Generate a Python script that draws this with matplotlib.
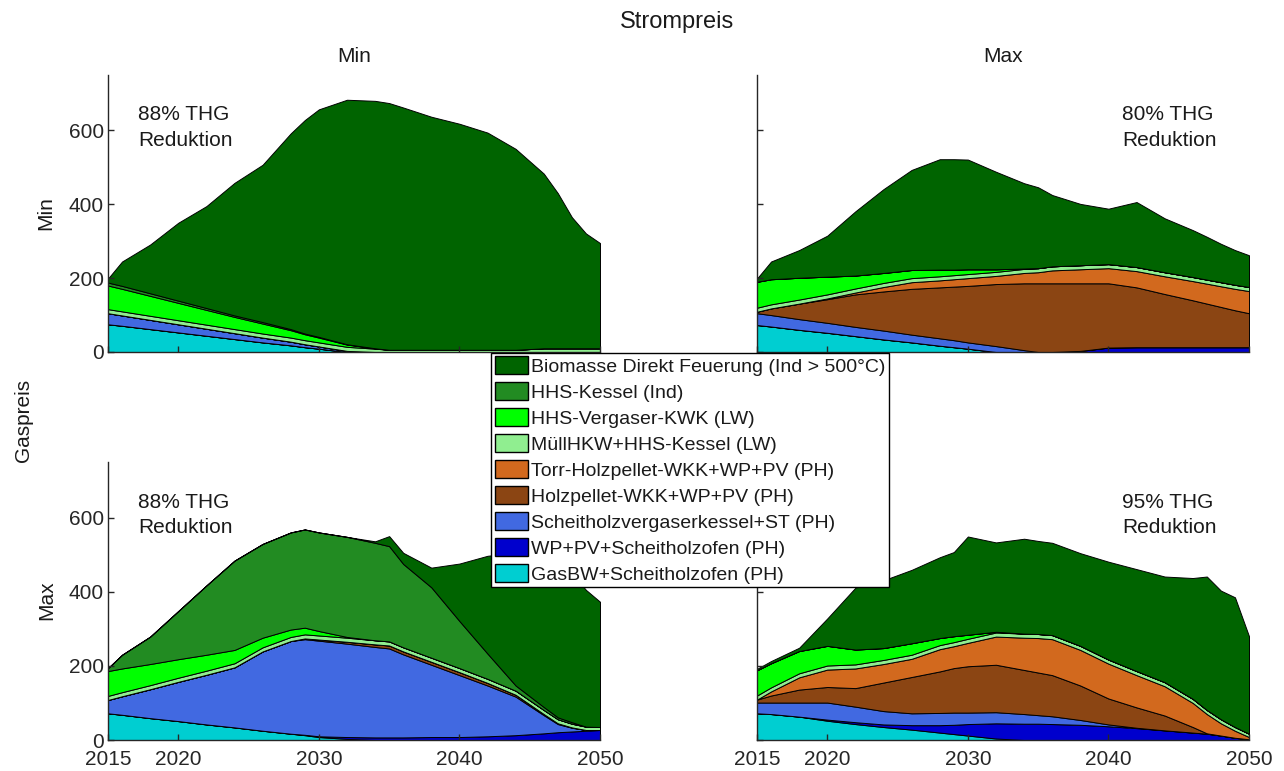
import matplotlib
matplotlib.use('Agg')
import matplotlib.pyplot as plt
from matplotlib.patches import Patch

plt.rcParams['font.family'] = ['Liberation Sans', 'DejaVu Sans']

# Common year grid (values at these years)
years = [2015, 2016, 2018, 2020, 2022, 2024, 2026, 2028, 2029, 2030, 2032, 2034,
         2035, 2036, 2038, 2040, 2042, 2044, 2046, 2047, 2048, 2049, 2050]

# Legend order (top -> bottom); stacking uses the reverse order
labels = ['Biomasse Direkt Feuerung (Ind > 500°C)',
          'HHS-Kessel (Ind)',
          'HHS-Vergaser-KWK (LW)',
          'MüllHKW+HHS-Kessel (LW)',
          'Torr-Holzpellet-WKK+WP+PV (PH)',
          'Holzpellet-WKK+WP+PV (PH)',
          'Scheitholzvergaserkessel+ST (PH)',
          'WP+PV+Scheitholzofen (PH)',
          'GasBW+Scheitholzofen (PH)']
colors = ['#006400', '#228B22', '#00FF00', '#90EE90', '#D2691E',
          '#8B4513', '#4169E1', '#0000CD', '#00CED1']

# ---- Strompreis Min / Gaspreis Min (88% THG) ----
tl_gasbw    = [75, 71, 62, 53, 44, 35, 26, 18, 13, 9, 0, 0, 0, 0, 0, 0, 0, 0, 0, 0, 0, 0, 0]
tl_wp       = [0, 0, 0, 0, 0, 0, 0, 0, 0, 0, 0, 0, 0, 0, 0, 0, 0, 0, 0, 0, 0, 0, 0]
tl_scheit   = [30, 28, 25, 22, 19, 16, 13, 10, 8, 6, 3, 0, 0, 0, 0, 0, 0, 0, 0, 0, 0, 0, 0]
tl_holz     = [0, 0, 0, 0, 0, 0, 0, 0, 0, 0, 0, 0, 0, 0, 0, 0, 0, 0, 0, 0, 0, 0, 0]
tl_torr     = [0, 0, 0, 0, 0, 0, 0, 0, 0, 0, 0, 0, 0, 0, 0, 0, 0, 0, 0, 0, 0, 0, 0]
tl_muell    = [11, 11, 11, 11, 11, 11, 11, 11, 11, 11, 11, 9, 6, 6, 6, 6, 6, 6, 10, 10, 10, 10, 10]
tl_vergaser = [64, 61, 54, 47, 40, 33, 27, 20, 16, 13, 6, 1, 0, 0, 0, 0, 0, 0, 0, 0, 0, 0, 0]
tl_hhs_ind  = [8, 8, 7, 6, 5, 4, 4, 3, 2, 2, 1, 0, 0, 0, 0, 0, 0, 0, 0, 0, 0, 0, 0]
tl_biomasse = [11, 66, 132, 211, 276, 359, 426, 530, 578, 616, 662, 670, 668, 656,
               631, 612, 588, 544, 473, 420, 355, 311, 285]

# ---- Strompreis Max / Gaspreis Min (80% THG) ----
tr_gasbw    = [73, 69, 60, 52, 43, 34, 26, 17, 13, 9, 0, 0, 0, 0, 0, 0, 0, 0, 0, 0, 0, 0, 0]
tr_wp       = [0, 0, 0, 0, 0, 0, 0, 0, 0, 0, 0, 0, 0, 0, 3, 12, 13, 13, 13, 13, 13, 13, 13]
tr_scheit   = [32, 31, 29, 27, 25, 24, 21, 20, 19, 17, 16, 5, 0, 0, 0, 0, 0, 0, 0, 0, 0, 0, 0]
tr_holz     = [4, 18, 42, 64, 88, 106, 124, 138, 145, 153, 168, 181, 186, 186, 183,
               174, 162, 144, 127, 118, 109, 100, 92]
tr_torr     = [0, 0, 0, 2, 5, 12, 18, 19, 20, 21, 22, 28, 30, 35, 38, 41, 44, 48, 52,
               54, 56, 58, 60]
tr_muell    = [11, 11, 11, 11, 11, 11, 11, 11, 11, 11, 11, 11, 11, 11, 11, 11, 11, 11,
               11, 11, 11, 11, 11]
tr_vergaser = [70, 68, 59, 48, 35, 27, 22, 18, 15, 13, 7, 1, 0, 0, 0, 0, 0, 0, 0, 0, 0, 0, 0]
tr_hhs_ind  = [0, 0, 0, 0, 0, 0, 0, 0, 0, 0, 0, 0, 0, 0, 0, 0, 0, 0, 0, 0, 0, 0, 0]
tr_biomasse = [9, 48, 75, 111, 174, 227, 271, 299, 299, 297, 264, 231, 219, 193,
               166, 150, 176, 146, 127, 116, 104, 94, 86]

# ---- Strompreis Min / Gaspreis Max (88% THG) ----
bl_gasbw    = [72, 68, 59, 51, 42, 34, 25, 17, 13, 8, 3, 0, 0, 0, 0, 0, 0, 0, 0, 0, 0, 0, 0]
bl_wp       = [0, 0, 0, 0, 0, 0, 0, 0, 1, 2, 5, 7, 7, 7, 8, 8, 10, 13, 18, 21, 23, 25, 27]
bl_scheit   = [36, 50, 78, 106, 134, 162, 214, 250, 258, 258, 252, 244, 240, 224,
               195, 167, 137, 104, 49, 22, 10, 2, 0]
bl_holz     = [0, 0, 0, 0, 0, 0, 0, 0, 2, 3, 5, 7, 8, 8, 8, 8, 7, 5, 3, 2, 1, 0, 0]
bl_torr     = [0, 0, 0, 0, 0, 0, 0, 0, 0, 0, 0, 0, 0, 0, 0, 0, 0, 0, 0, 0, 0, 0, 0]
bl_muell    = [11, 11, 11, 11, 11, 11, 11, 11, 11, 11, 11, 11, 11, 11, 11, 11, 11, 11,
               11, 11, 10, 9, 8]
bl_vergaser = [67, 64, 57, 50, 43, 36, 26, 20, 18, 12, 2, 0, 0, 0, 0, 0, 0, 0, 0, 0, 0, 0, 0]
bl_hhs_ind  = [8, 37, 74, 130, 187, 241, 253, 262, 265, 266, 270, 263, 257, 225,
               190, 127, 68, 14, 8, 5, 4, 0, 0]
bl_biomasse = [0, 0, 0, 0, 0, 0, 0, 0, 0, 0, 0, 4, 27, 30, 53, 155, 264, 358, 411,
               424, 402, 369, 338]

# ---- Strompreis Max / Gaspreis Max (95% THG) ----
br_gasbw    = [72, 70, 63, 52, 43, 35, 28, 20, 16, 12, 4, 0, 0, 0, 0, 0, 0, 0, 0, 0, 0, 0, 0]
br_wp       = [0, 0, 0, 3, 5, 7, 12, 20, 25, 31, 41, 44, 44, 43, 41, 37, 32, 26, 20,
               17, 12, 6, 2]
br_scheit   = [29, 31, 38, 46, 42, 36, 32, 33, 33, 31, 30, 26, 23, 21, 13, 5, 1, 0,
               0, 0, 0, 0, 0]
br_holz     = [8, 19, 35, 42, 50, 77, 98, 112, 120, 125, 128, 119, 115, 111, 93, 70,
               55, 40, 15, 1, 0, 0, 0]
br_torr     = [0, 11, 33, 47, 53, 50, 49, 60, 59, 63, 76, 87, 93, 97, 96, 94, 87,
               79, 65, 52, 33, 19, 6]
br_muell    = [11, 11, 11, 11, 11, 11, 11, 11, 11, 11, 11, 11, 11, 11, 11, 11, 11, 11,
               11, 11, 11, 10, 9]
br_vergaser = [68, 65, 60, 53, 40, 32, 31, 19, 16, 11, 2, 0, 0, 0, 0, 0, 0, 0, 0, 0, 0, 0, 0]
br_hhs_ind  = [0, 0, 0, 0, 0, 0, 0, 0, 0, 0, 0, 0, 0, 0, 0, 0, 0, 0, 0, 0, 0, 0, 0]
br_biomasse = [4, 6, 9, 74, 167, 183, 198, 218, 227, 265, 241, 256, 251, 249, 250,
               264, 275, 285, 326, 360, 347, 350, 263]

panel_notes = ['88% THG\nReduktion', '80% THG\nReduktion',
               '88% THG\nReduktion', '95% THG\nReduktion']

W, H = 1284, 771
fig = plt.figure(figsize=(W / 100, H / 100), dpi=100, facecolor='white')


def px_axes(x0, y0, x1, y1):
    return fig.add_axes([x0 / W, 1 - y1 / H, (x1 - x0) / W, (y1 - y0) / H])


# panel boxes in pixels: (left, top, right, bottom)
boxes = [(108, 75, 600, 352), (757, 75, 1249, 352),
         (108, 462, 600, 740), (757, 462, 1249, 740)]

panels = [
    [tl_gasbw, tl_wp, tl_scheit, tl_holz, tl_torr, tl_muell, tl_vergaser, tl_hhs_ind, tl_biomasse],
    [tr_gasbw, tr_wp, tr_scheit, tr_holz, tr_torr, tr_muell, tr_vergaser, tr_hhs_ind, tr_biomasse],
    [bl_gasbw, bl_wp, bl_scheit, bl_holz, bl_torr, bl_muell, bl_vergaser, bl_hhs_ind, bl_biomasse],
    [br_gasbw, br_wp, br_scheit, br_holz, br_torr, br_muell, br_vergaser, br_hhs_ind, br_biomasse],
]
note_x = [0.061, 0.742, 0.061, 0.742]
stack_colors = colors[::-1]
text_col = '#262626'

for i, (box, series) in enumerate(zip(boxes, panels)):
    ax = px_axes(*box)
    ax.stackplot(years, *series, colors=stack_colors,
                 edgecolor='black', linewidth=0.7)
    ax.set_xlim(2015, 2050)
    ax.set_ylim(0, 750)
    ax.set_xticks([2015, 2020, 2030, 2040, 2050])
    ax.set_yticks([0, 200, 400, 600])
    for side in ['top', 'right']:
        ax.spines[side].set_visible(False)
    for side in ['left', 'bottom']:
        ax.spines[side].set_color(text_col)
        ax.spines[side].set_linewidth(1.0)
    ax.tick_params(direction='in', length=4, width=1, colors=text_col,
                   labelsize=15,
                   labelbottom=(i >= 2), labelleft=(i % 2 == 0))
    ax.tick_params(axis='x', pad=7)
    ax.tick_params(axis='y', pad=3)
    ax.set_facecolor('white')
    ax.text(note_x[i], 0.89, panel_notes[i], transform=ax.transAxes,
            ha='left', va='top', fontsize=15, color='#1a1a1a', linespacing=1.45)

# Titles and row labels
fig.text(677 / W, 1 - 22 / H, 'Strompreis', ha='center', va='center',
         fontsize=17, color='#1a1a1a')
fig.text(354 / W, 1 - 57 / H, 'Min', ha='center', va='center', fontsize=15, color='#1a1a1a')
fig.text(1003 / W, 1 - 57 / H, 'Max', ha='center', va='center', fontsize=15, color='#1a1a1a')
fig.text(46 / W, 1 - 213 / H, 'Min', rotation=90, ha='center', va='center',
         fontsize=15, color='#1a1a1a')
fig.text(47 / W, 1 - 600 / H, 'Max', rotation=90, ha='center', va='center',
         fontsize=15, color='#1a1a1a')
fig.text(24 / W, 1 - 420 / H, 'Gaspreis', rotation=90, ha='center', va='center',
         fontsize=15, color='#1a1a1a')

# Legend
handles = [Patch(facecolor=c, edgecolor='black', linewidth=1.0) for c in colors]
leg = fig.legend(handles, labels, loc='center',
                 bbox_to_anchor=(690 / W, 1 - 470 / H),
                 fontsize=14, frameon=True, fancybox=False, framealpha=1,
                 edgecolor='black', handlelength=1.7, handleheight=1.0,
                 handletextpad=0.15, labelspacing=0.34, borderpad=0.2,
                 borderaxespad=0)
leg.get_frame().set_linewidth(1.0)
for t in leg.get_texts():
    t.set_color('#1a1a1a')

fig.savefig('out.png', dpi=100, facecolor='white')
